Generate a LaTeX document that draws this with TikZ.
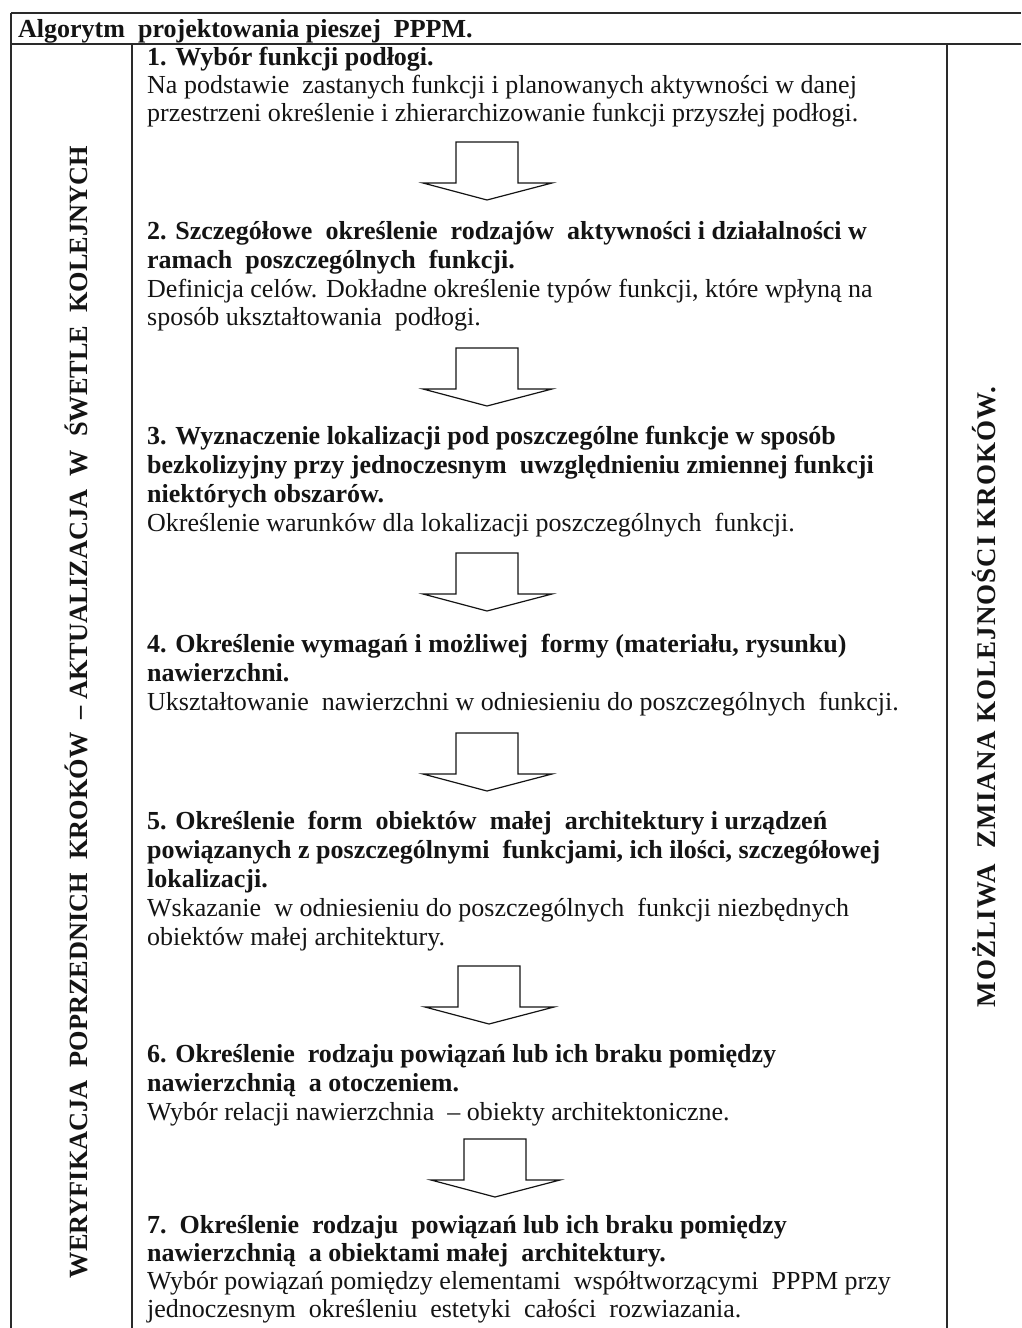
\documentclass[tikz,border=0pt]{standalone}
\usepackage{fontspec}
\setmainfont{Liberation Serif}
\definecolor{ink}{HTML}{141414}
\definecolor{rule}{HTML}{2A2A2A}
\begin{document}
\begin{tikzpicture}[x=1pt,y=-1pt,
  frame/.style={draw=rule,line width=1.4pt},
  bodytxt/.style={anchor=base west,inner sep=0pt,text=ink,font=\fontsize{26}{29}\selectfont},
  boldtxt/.style={bodytxt,font=\fontsize{26}{29}\selectfont\bfseries},
  sidetxt/.style={inner sep=0pt,text=ink,rotate=90,font=\fontsize{26.3}{29}\selectfont\bfseries},
  blockarr/.pic={\draw[draw=ink,line width=1.2pt,fill=white,line join=miter]
     (-31,0) -- (31,0) -- (31,41) -- (65,41) -- (0,58) -- (-64,41) -- (-31,41) -- cycle;}]
\useasboundingbox (0,0) rectangle (1021,1328);
\fill[white] (0,0) rectangle (1021,1328);
% frame
\draw[frame] (11,13) -- (1021,13);
\draw[frame] (11,44) -- (1021,44);
\draw[frame] (11,13) -- (11,1328);
\draw[frame] (132,44) -- (132,1328);
\draw[frame] (947,44) -- (947,1328);
% title
\node[boldtxt] (title) at (18,37) {Algorytm\ \ projektowania pieszej\ \ PPPM.};
% side texts
\node[sidetxt] (left) at (76,712) {WERYFIKACJA\ \ POPRZEDNICH\ \ KROKÓW\ \ –\ AKTUALIZACJA\ \ W\ \ ŚWETLE\ \ KOLEJNYCH};
\node[sidetxt,font=\fontsize{27}{29}\selectfont\bfseries\addfontfeature{LetterSpace=4}] (right) at (984,697) {MOŻLIWA\ \ ZMIANA\ KOLEJNOŚCI\ KROKÓW.};
% step 1
\node[boldtxt] (s1a) at (147,65) {1. Wybór funkcji podłogi.};
\node[bodytxt] (s1b) at (147,93) {Na podstawie\ \ zastanych\ funkcji i planowanych\ aktywności\ w\ danej};
\node[bodytxt] (s1c) at (147,121) {przestrzeni\ określenie\ i zhierarchizowanie\ funkcji przyszłej podłogi.};
\pic at (487,142) {blockarr};
% step 2
\node[boldtxt] (s2a) at (147,239) {2. Szczegółowe\ \ określenie\ \ rodzajów\ \ aktywności i działalności w};
\node[boldtxt] (s2b) at (147,268) {ramach\ \ poszczególnych\ \ funkcji.};
\node[bodytxt] (s2c) at (147,297) {Definicja celów. Dokładne\ określenie\ typów funkcji, które wpłyną na};
\node[bodytxt] (s2d) at (147,325) {sposób ukształtowania\ \ podłogi.};
\pic at (487,348) {blockarr};
% step 3
\node[boldtxt] (s3a) at (147,444) {3. Wyznaczenie lokalizacji pod poszczególne funkcje w sposób};
\node[boldtxt] (s3b) at (147,473) {bezkolizyjny\ przy jednoczesnym\ \ uwzględnieniu\ zmiennej funkcji};
\node[boldtxt] (s3c) at (147,502) {niektórych obszarów.};
\node[bodytxt] (s3d) at (147,531) {Określenie\ warunków dla lokalizacji poszczególnych\ \ funkcji.};
\pic at (487,553) {blockarr};
% step 4
\node[boldtxt] (s4a) at (147,652) {4. Określenie wymagań\ i możliwej\ \ formy\ (materiału, rysunku)};
\node[boldtxt] (s4b) at (147,681) {nawierzchni.};
\node[bodytxt] (s4c) at (147,710) {Ukształtowanie\ \ nawierzchni\ w odniesieniu do poszczególnych\ \ funkcji.};
\pic at (487,733) {blockarr};
% step 5
\node[boldtxt] (s5a) at (147,829) {5. Określenie\ \ form\ \ obiektów\ \ małej\ \ architektury\ i\ urządzeń};
\node[boldtxt] (s5b) at (147,858) {powiązanych z poszczególnymi\ \ funkcjami, ich ilości, szczegółowej};
\node[boldtxt] (s5c) at (147,887) {lokalizacji.};
\node[bodytxt] (s5d) at (147,916) {Wskazanie\ \ w odniesieniu do poszczególnych\ \ funkcji\ niezbędnych};
\node[bodytxt] (s5e) at (147,945) {obiektów\ małej architektury.};
\pic at (489,966) {blockarr};
% step 6
\node[boldtxt] (s6a) at (147,1062) {6. Określenie\ \ rodzaju\ powiązań\ lub ich braku pomiędzy};
\node[boldtxt] (s6b) at (147,1091) {nawierzchnią\ \ a otoczeniem.};
\node[bodytxt] (s6c) at (147,1120) {Wybór relacji\ nawierzchnia\ \ –\ obiekty\ architektoniczne.};
\pic at (495,1139) {blockarr};
% step 7
\node[boldtxt] (s7a) at (147,1233) {7.\ \ Określenie\ \ rodzaju\ \ powiązań\ lub ich braku pomiędzy};
\node[boldtxt] (s7b) at (147,1261) {nawierzchnią\ \ a obiektami\ małej\ \ architektury.};
\node[bodytxt] (s7c) at (147,1289) {Wybór powiązań pomiędzy elementami\ \ współtworzącymi\ \ PPPM przy};
\node[bodytxt] (s7d) at (147,1317) {jednoczesnym\ \ określeniu\ \ estetyki\ \ całości\ \ rozwiazania.};
\end{tikzpicture}
\end{document}
